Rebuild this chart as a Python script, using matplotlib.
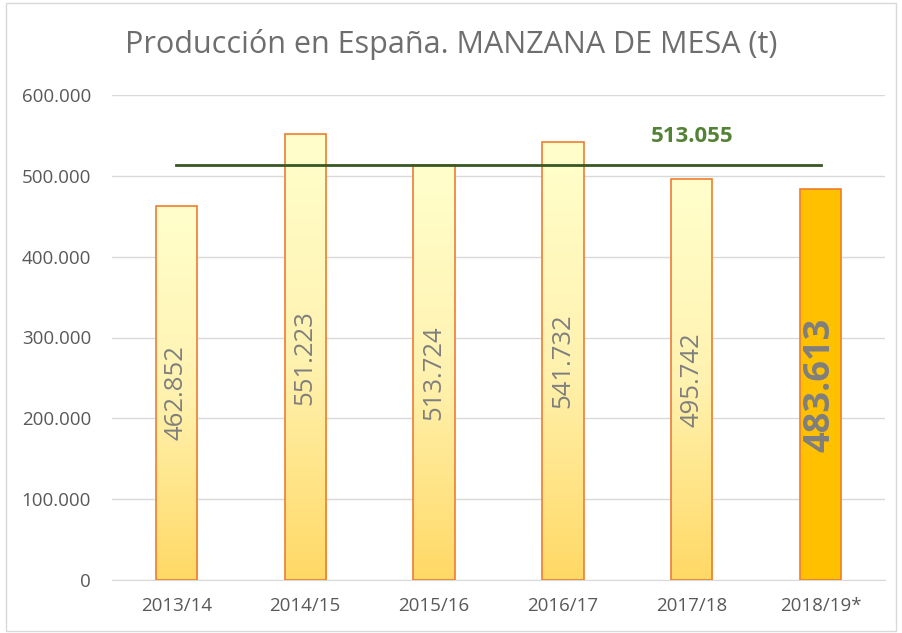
import numpy as np
import matplotlib.pyplot as plt
from matplotlib.patches import Rectangle
from matplotlib.colors import LinearSegmentedColormap

# Data
campanas = ['2013/14', '2014/15', '2015/16', '2016/17', '2017/18', '2018/19*']
produccion = [462852, 551223, 513724, 541732, 495742, 483613]
media = 513055
yticks = [0, 100000, 200000, 300000, 400000, 500000, 600000]

def fmt_es(v):
    return f'{v:,.0f}'.replace(',', '.')

plt.rcParams['font.family'] = ['Open Sans', 'DejaVu Sans']

fig = plt.figure(figsize=(9.03, 6.33), dpi=100)
ax = fig.add_axes([112 / 903, 1 - 580 / 633, 773 / 903, 485 / 633])

x = np.arange(len(campanas))
bars = ax.bar(x, produccion, width=0.32, edgecolor='#ED7D31', linewidth=1.2,
              facecolor='none', zorder=3)

# gradient fill for all but the last bar
grad = np.linspace(0, 1, 256).reshape(-1, 1)
cmap = LinearSegmentedColormap.from_list('am', ['#FFD966', '#FFF2B0', '#FFFFCC'])
for i, b in enumerate(bars):
    if i == len(bars) - 1:
        b.set_facecolor('#FFC000')
        continue
    x0, w, h = b.get_x(), b.get_width(), b.get_height()
    im = ax.imshow(grad, cmap=cmap, aspect='auto', origin='lower',
                   extent=[x0, x0 + w, 0, h], zorder=2)
    im.set_clip_path(b)

# value labels
for i, b in enumerate(bars):
    last = i == len(bars) - 1
    ax.text(b.get_x() + b.get_width() / 2, b.get_height() / 2, fmt_es(produccion[i]),
            rotation=90, ha='center', va='center', color='#7F7F7F',
            fontsize=26 if last else 18.5, fontweight='bold' if last else 'normal',
            zorder=4)

# average line
ax.plot([x[0], x[-1]], [media, media], color='#385723', linewidth=2, zorder=5)
ax.text(x[4], media + 22000, fmt_es(media), color='#548235', fontsize=16,
        fontweight='bold', ha='center', va='bottom')

ax.set_xlim(-0.5, len(campanas) - 0.5)
ax.set_ylim(0, 600000)
ax.set_yticks(yticks)
ax.set_yticklabels([fmt_es(v) for v in yticks])
ax.set_xticks(x)
ax.set_xticklabels(campanas)
ax.tick_params(axis='both', length=0, labelsize=13.5, labelcolor='#595959')
ax.tick_params(axis='y', pad=15)
ax.tick_params(axis='x', pad=12)
ax.grid(axis='y', color='#D9D9D9', linewidth=1, zorder=0)
ax.set_axisbelow(True)
for s in ['top', 'right', 'left']:
    ax.spines[s].set_visible(False)
ax.spines['bottom'].set_color('#D9D9D9')

fig.text(0.5, 1 - 45 / 633, 'Producción en España. MANZANA DE MESA (t)',
         ha='center', va='center', fontsize=22, color='#6E6E6E')

fig.patches.append(Rectangle((6 / 903, 2 / 633), 890 / 903, 628 / 633,
                             transform=fig.transFigure, fill=False,
                             edgecolor='#D9D9D9', linewidth=1))

fig.savefig('out.png', dpi=100)
